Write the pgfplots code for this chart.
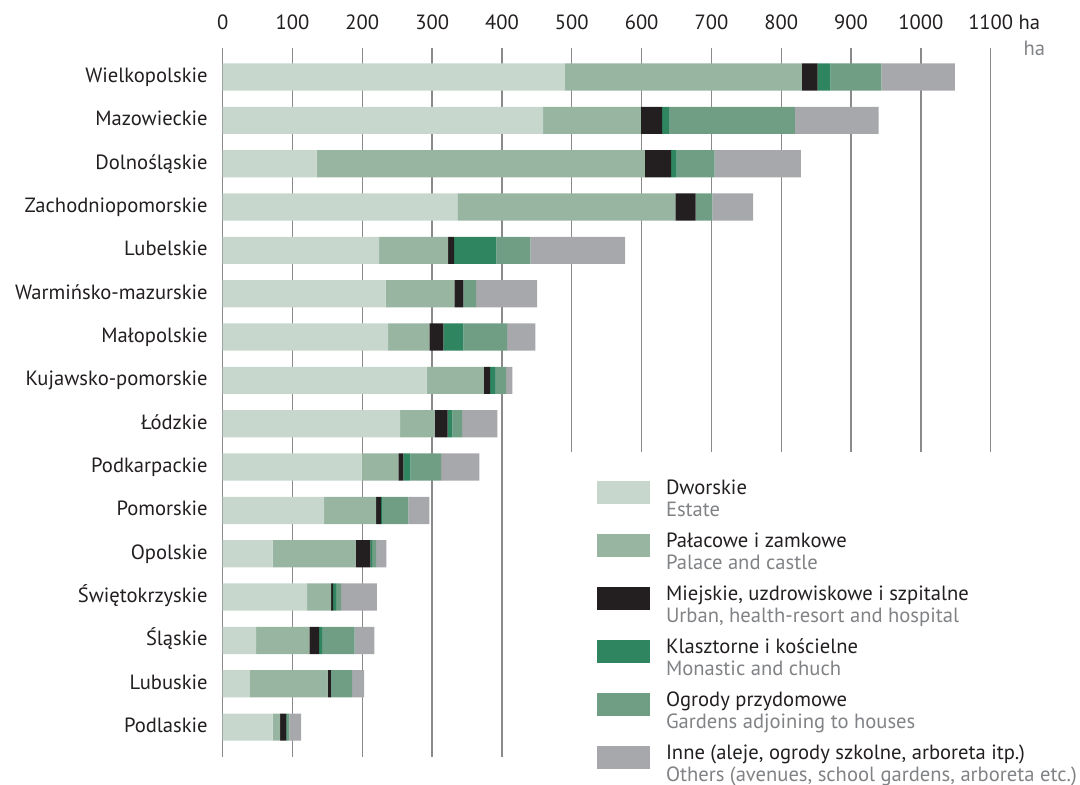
\documentclass[border=0pt]{standalone}
\usepackage{fontspec}
\setmainfont{PT Sans}
\usepackage{pgfplots}
\pgfplotsset{compat=1.18}
\usepackage{pgfplotstable}
\definecolor{cEst}{HTML}{C7D7CD}
\definecolor{cPal}{HTML}{98B5A2}
\definecolor{cUrb}{HTML}{231F20}
\definecolor{cMon}{HTML}{2E8560}
\definecolor{cGar}{HTML}{6F9E85}
\definecolor{cOth}{HTML}{A7A8AB}
\definecolor{txt}{HTML}{231F20}
\definecolor{engray}{HTML}{808285}
\definecolor{gridc}{HTML}{8A8A8A}

\pgfplotstableread{
idx est pal urb mon gar oth
0 490 339 23 18.5 73 105
1 459 140 30.5 9.5 180.5 120
2 134.6 470 37.8 7.6 54.4 123.8
3 336 312.3 29.2 0 23.8 58.3
4 223.9 98.8 8.6 60.6 48.7 135.7
5 233.4 98.4 12.9 0 18.1 87.4
6 236.8 59.1 20.1 28.7 62.6 40.6
7 292.2 81.7 9 7.2 15.8 9
8 254 49.7 18.6 6.6 13.9 50.6
9 199.1 52.5 7.1 10.1 43.9 54.9
10 145.1 74.5 7.2 2.4 36.7 30.1
11 71.6 118.9 21 2.4 5.7 14.8
12 120.8 34.4 2.8 4.3 7.2 51.5
13 47.7 76.4 13.9 4.3 46.7 28.2
14 39.1 111.3 4.8 0.5 29.6 17.2
15 71.6 10.5 9.1 1.9 2.3 16.8
}\data

\newcommand\myfont{\fontsize{10.3}{10.85}\selectfont}
\newcommand\legtxt[2]{\begin{tabular}{@{}l@{}}#1\\\textcolor{engray}{#2}\end{tabular}}

\pgfplotsset{gridaxis/.style={
  scale only axis, width=384pt,
  xmin=0, xmax=1100, ymin=0, ymax=1,
  xticklabels=\empty, ytick=\empty,
  xmajorgrids, major grid style={gridc, line width=0.7pt},
  axis line style={draw=none}, major tick length=0pt}}

\begin{document}
\myfont\color{txt}%
\begin{tikzpicture}
\useasboundingbox (-111.35pt,-14pt) rectangle (428.65pt,378.5pt);
% background grid: full-height lines
\begin{axis}[gridaxis, height=354.5pt, at={(0pt,0pt)}, anchor=south west,
  xtick={0,100,200,300,400}]
\end{axis}
% background grid: shorter lines above the legend
\begin{axis}[gridaxis, height=202pt, at={(0pt,354.5pt)}, anchor=north west,
  xtick={500,600,700,800,900,1000,1100}]
\end{axis}
\begin{axis}[
  at={(0pt,0pt)}, anchor=south west,
  scale only axis, width=384pt, height=354.5pt,
  xbar stacked, bar width=13.6pt,
  xmin=0, xmax=1100, ymin=-0.67, ymax=15.69, y dir=reverse,
  enlargelimits=false, clip=false,
  axis line style={draw=none}, major tick length=0pt,
  xtick={0,100,200,300,400,500,600,700,800,900,1000,1100},
  xticklabels={0,100,200,300,400,500,600,700,800,900,1000,1100\rlap{ ha}},
  xticklabel pos=upper,
  x tick label style={anchor=base, inner sep=0pt, yshift=9pt, font=\myfont, text=txt},
  ytick={0,1,...,15},
  yticklabels={Wielkopolskie,Mazowieckie,Dolnośląskie,Zachodniopomorskie,Lubelskie,Warmińsko-mazurskie,Małopolskie,Kujawsko-pomorskie,Łódzkie,Podkarpackie,Pomorskie,Opolskie,Świętokrzyskie,Śląskie,Lubuskie,Podlaskie},
  y tick label style={anchor=base east, inner sep=0pt, xshift=-7.3pt, yshift=-2.65pt, font=\myfont, text=txt},
  legend cell align=left,
  legend style={at={(axis cs:536.1,9.2)}, anchor=north west, draw=none, fill=none,
    inner sep=0pt, outer sep=0pt, row sep=7.6pt, font=\myfont, text=txt,
    cells={inner sep=0pt},
    /tikz/every odd column/.append style={column sep=6pt}},
  sw/.style={draw=none, legend image code/.code={\fill[##1] (0pt,-4.85pt) rectangle (26.5pt,6.65pt);}},
]
\addplot[fill=cEst, sw] table[x=est, y=idx] {\data};
\addlegendentry{\legtxt{Dworskie}{Estate}}
\addplot[fill=cPal, sw] table[x=pal, y=idx] {\data};
\addlegendentry{\legtxt{Pałacowe i zamkowe}{Palace and castle}}
\addplot[fill=cUrb, sw] table[x=urb, y=idx] {\data};
\addlegendentry{\legtxt{Miejskie, uzdrowiskowe i szpitalne}{Urban, health-resort and hospital}}
\addplot[fill=cMon, sw] table[x=mon, y=idx] {\data};
\addlegendentry{\legtxt{Klasztorne i kościelne}{Monastic and chuch}}
\addplot[fill=cGar, sw] table[x=gar, y=idx] {\data};
\addlegendentry{\legtxt{Ogrody przydomowe}{Gardens adjoining to houses}}
\addplot[fill=cOth, sw] table[x=oth, y=idx] {\data};
\addlegendentry{\legtxt{Inne (aleje, ogrody szkolne, arboreta itp.)}{Others (avenues, school gardens, arboreta etc.)}}
\node[anchor=base west, inner sep=0pt, text=engray, font=\myfont] at (axis cs:1146.6,-0.508) {ha};
\end{axis}
\end{tikzpicture}
\end{document}
